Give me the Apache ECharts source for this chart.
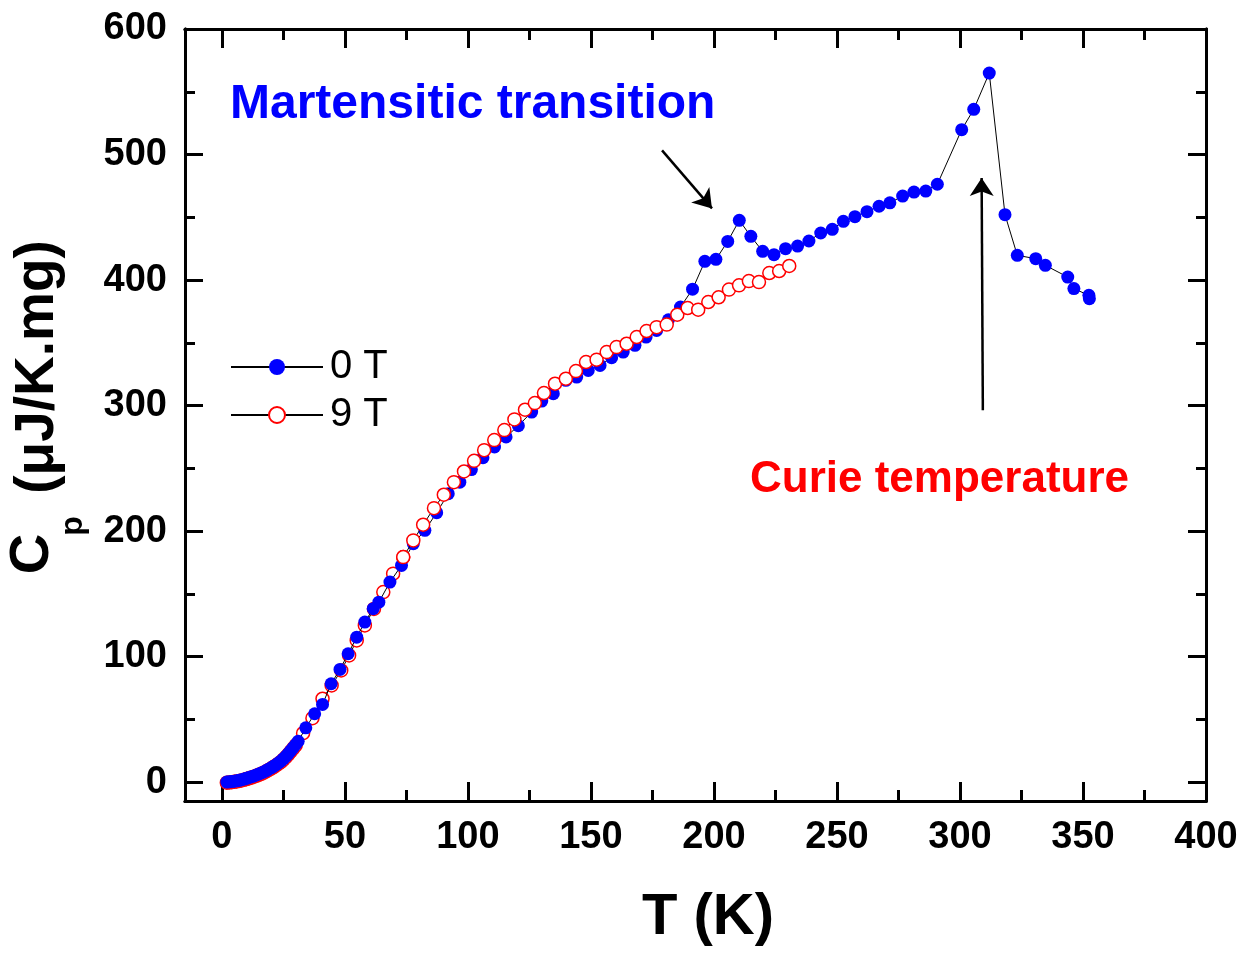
<!DOCTYPE html>
<html>
<head>
<meta charset="utf-8">
<script src="https://cdn.jsdelivr.net/npm/echarts@6/dist/echarts.min.js"></script>
<style>
  html, body { margin: 0; padding: 0; background: #fff; }
  #chart { width: 1245px; height: 953px; }
</style>
</head>
<body>
<div id="chart"></div>
<script>
// Specific heat Cp (µJ/K.mg) versus temperature T (K), zero field and 9 T.
const tempZero = [
  2, 3, 4, 5, 6, 7, 8, 9, 10, 11, 12, 13, 14, 15, 16, 17, 18, 19, 20, 21,
  22, 23, 24, 25, 26, 27, 28, 29, 30, 31,
  34.1, 37.7, 40.9, 44.4, 48.0, 51.3, 54.8, 58.1, 61.5, 63.8,
  68.3, 73.0, 77.8, 82.5, 87.3, 92.0, 96.7, 101.4, 106.1, 110.8,
  115.5, 120.5, 125.9, 130.0, 134.7, 139.8, 144.2, 148.9, 153.7, 158.4,
  163.1, 167.9, 172.4, 176.7, 181.5, 186.4, 191.3, 196.3, 200.8, 205.6,
  210.3, 215.0, 219.8, 224.4, 229.1, 234.0, 238.6, 243.4, 248.1, 252.6,
  257.3, 262.2, 267.1, 271.5, 276.7, 281.3, 286.1, 290.8, 300.7, 305.6,
  311.9, 318.3, 323.3, 330.8, 334.7, 343.8, 346.3, 352.4, 352.6
];
const cpZero = [
  0.1, 0.3, 0.5, 0.8, 1.1, 1.5, 2.0, 2.5, 3.1, 3.7, 4.3, 5.0, 5.7, 6.5, 7.3, 8.2, 9.2, 10.3, 11.4, 12.6,
  13.9, 15.3, 16.8, 18.6, 20.6, 22.8, 25.1, 27.5, 30.0, 32.6,
  43.3, 54.5, 61.9, 78.4, 89.8, 102.3, 115.5, 127.5, 138.2, 143.4,
  159.4, 172.7, 190.0, 200.6, 214.7, 229.8, 239.0, 249.0, 258.5, 267.0,
  275.0, 284.0, 294.8, 303.6, 309.5, 320.1, 322.7, 328.0, 332.0, 338.2,
  342.6, 348.0, 354.6, 359.9, 368.4, 378.5, 392.7, 414.9, 416.5, 430.8,
  447.6, 434.8, 422.9, 420.2, 425.0, 427.1, 431.1, 437.5, 440.4, 446.8,
  450.5, 454.5, 458.8, 461.5, 466.9, 470.1, 470.9, 476.3, 519.8, 536.0,
  564.9, 452.1, 419.7, 417.0, 411.7, 402.4, 393.2, 387.8, 385.2
];
const tempNine = [
  2, 3, 4, 5, 6, 7, 8, 9, 10, 11, 12, 13, 14, 15, 16, 17, 18, 19, 20, 21,
  22, 23, 24, 25, 26, 27, 28, 29, 30,
  33.0, 36.8, 40.9, 44.6, 48.5, 51.7, 54.8, 58.1, 61.8, 65.6,
  69.6, 73.7, 77.8, 81.8, 86.2, 90.2, 94.3, 98.4, 102.5, 106.6,
  110.7, 114.8, 118.9, 123.2, 127.2, 130.9, 135.4, 139.8, 143.9, 148.0,
  152.3, 156.4, 160.4, 164.5, 168.6, 172.6, 176.7, 180.8, 185.1, 189.3,
  193.6, 197.7, 201.9, 206.1, 210.2, 214.2, 218.3, 222.5, 226.5, 230.6
];
const cpNine = [
  -0.4, -0.2, 0.0, 0.3, 0.6, 1.0, 1.4, 1.9, 2.5, 3.1, 3.7, 4.4, 5.1, 5.9, 6.7, 7.6, 8.6, 9.7, 10.8, 12.0,
  13.3, 14.7, 16.2, 18.0, 20.0, 22.2, 24.5, 26.9, 29.4,
  39.0, 51.0, 66.5, 77.1, 89.0, 101.0, 112.9, 124.9, 138.0, 151.4,
  166.1, 179.3, 192.6, 205.1, 218.3, 229.0, 239.0, 247.5, 256.0, 264.5,
  272.5, 280.5, 289.0, 296.7, 302.0, 310.0, 317.4, 321.4, 327.5, 334.7,
  336.6, 342.6, 346.6, 349.3, 354.6, 359.4, 362.5, 364.5, 372.4, 377.7,
  376.4, 382.5, 386.3, 392.4, 395.8, 399.2, 398.4, 405.6, 407.2, 411.2
];

const xMajorTicks = [0, 50, 100, 150, 200, 250, 300, 350, 400];
const xMinorTicks = [25, 75, 125, 175, 225, 275, 325, 375];
const yMajorTicks = [0, 100, 200, 300, 400, 500, 600];
const yMinorTicks = [50, 150, 250, 350, 450, 550];

// Arrows pointing at the two anomalies, in data coordinates (T, Cp)
const martensiticArrow = [[178.9, 503.3], [199.2, 457.1]];
const curieArrow = [[309.3, 296.2], [308.8, 481.3]];

// Below this temperature the 9 T markers sit underneath the 0 T markers
const overlapLimit = 70;

const FONT = "'Liberation Sans', Arial, Helvetica, sans-serif";

const pairs = (xs, ys) => xs.map((x, i) => [x, ys[i]]);
const zeroData = pairs(tempZero, cpZero);
const nineData = pairs(tempNine, cpNine);
const splitIdx = nineData.findIndex(p => p[0] >= overlapLimit);
const nineLow = nineData.slice(0, splitIdx + 1);
const nineHigh = nineData.slice(splitIdx);

function makeAxis(position, min, max, ticks, tickLen, showLabels, labelMargin) {
  return {
    type: 'value',
    position: position,
    min: min,
    max: max,
    gridIndex: 0,
    axisLine: { show: true, onZero: false, lineStyle: { color: '#000', width: 3 } },
    axisTick: {
      show: true, inside: true, length: tickLen, customValues: ticks,
      lineStyle: { color: '#000', width: 3 }
    },
    axisLabel: {
      show: showLabels, customValues: ticks, margin: labelMargin,
      fontFamily: FONT, fontWeight: 'bold', fontSize: 38, color: '#000'
    },
    splitLine: { show: false },
    minorTick: { show: false },
    minorSplitLine: { show: false }
  };
}

const redMarker = { color: '#ffffff', borderColor: '#ff0000', borderWidth: 1.5 };
const blackLine = { color: '#000', width: 1 };

const chart = echarts.init(document.getElementById('chart'), null, { renderer: 'canvas' });

chart.setOption({
  animation: false,
  backgroundColor: '#ffffff',
  grid: { left: 185, top: 29, right: 39, bottom: 152, containLabel: false },
  xAxis: [
    makeAxis('bottom', -15, 400, xMajorTicks, 19, true, 18),
    makeAxis('bottom', -15, 400, xMinorTicks, 11, false, 18),
    makeAxis('top', -15, 400, xMajorTicks, 19, false, 18),
    makeAxis('top', -15, 400, xMinorTicks, 11, false, 18)
  ],
  yAxis: [
    makeAxis('left', -15, 600, yMajorTicks, 18, true, 18),
    makeAxis('left', -15, 600, yMinorTicks, 10, false, 18),
    makeAxis('right', -15, 600, yMajorTicks, 18, false, 18),
    makeAxis('right', -15, 600, yMinorTicks, 10, false, 18)
  ],
  legend: {
    data: ['0 T', '9 T'],
    orient: 'vertical',
    left: 225,
    top: 342,
    itemWidth: 92,
    itemHeight: 20,
    itemGap: 8,
    selectedMode: false,
    textStyle: { fontFamily: FONT, fontSize: 40, color: '#000', padding: [0, 0, 0, 2] }
  },
  series: [
    {
      name: '9 T',
      type: 'line',
      data: nineLow,
      symbol: 'circle',
      symbolSize: 13,
      showAllSymbol: true,
      itemStyle: redMarker,
      lineStyle: blackLine,
      z: 2
    },
    {
      name: '0 T',
      type: 'line',
      data: zeroData,
      symbol: 'circle',
      symbolSize: 13,
      showAllSymbol: true,
      itemStyle: { color: '#0000ff' },
      lineStyle: blackLine,
      z: 3,
      markLine: {
        silent: true,
        symbol: ['none', 'arrow'],
        symbolSize: 18,
        label: { show: false },
        lineStyle: { color: '#000', width: 2.5, type: 'solid' },
        itemStyle: { color: '#000' },
        emphasis: { disabled: true },
        data: [
          [{ coord: martensiticArrow[0] }, { coord: martensiticArrow[1] }],
          [{ coord: curieArrow[0] }, { coord: curieArrow[1] }]
        ]
      }
    },
    {
      name: '9 T',
      type: 'line',
      data: nineHigh,
      symbol: 'circle',
      symbolSize: 13,
      showAllSymbol: true,
      itemStyle: redMarker,
      lineStyle: blackLine,
      z: 4
    }
  ],
  graphic: [
    {
      type: 'text', x: 230, y: 105,
      style: { text: 'Martensitic transition', font: 'bold 48px ' + FONT, fill: '#0000ff', align: 'left', verticalAlign: 'middle' }
    },
    {
      type: 'text', x: 750, y: 480,
      style: { text: 'Curie temperature', font: 'bold 44px ' + FONT, fill: '#ff0000', align: 'left', verticalAlign: 'middle' }
    },
    {
      type: 'text', x: 708, y: 918,
      style: { text: 'T (K)', font: 'bold 58px ' + FONT, fill: '#000', align: 'center', verticalAlign: 'middle' }
    },
    {
      type: 'text', x: 33, y: 554, rotation: Math.PI / 2,
      style: { text: 'C', font: 'bold 56px ' + FONT, fill: '#000', align: 'center', verticalAlign: 'middle' }
    },
    {
      type: 'text', x: 73, y: 526, rotation: Math.PI / 2,
      style: { text: 'p', font: 'bold 32px ' + FONT, fill: '#000', align: 'center', verticalAlign: 'middle' }
    },
    {
      type: 'text', x: 38, y: 367, rotation: Math.PI / 2,
      style: { text: '(\u03bcJ/K.mg)', font: 'bold 55px ' + FONT, fill: '#000', align: 'center', verticalAlign: 'middle' }
    }
  ]
});
</script>
</body>
</html>
